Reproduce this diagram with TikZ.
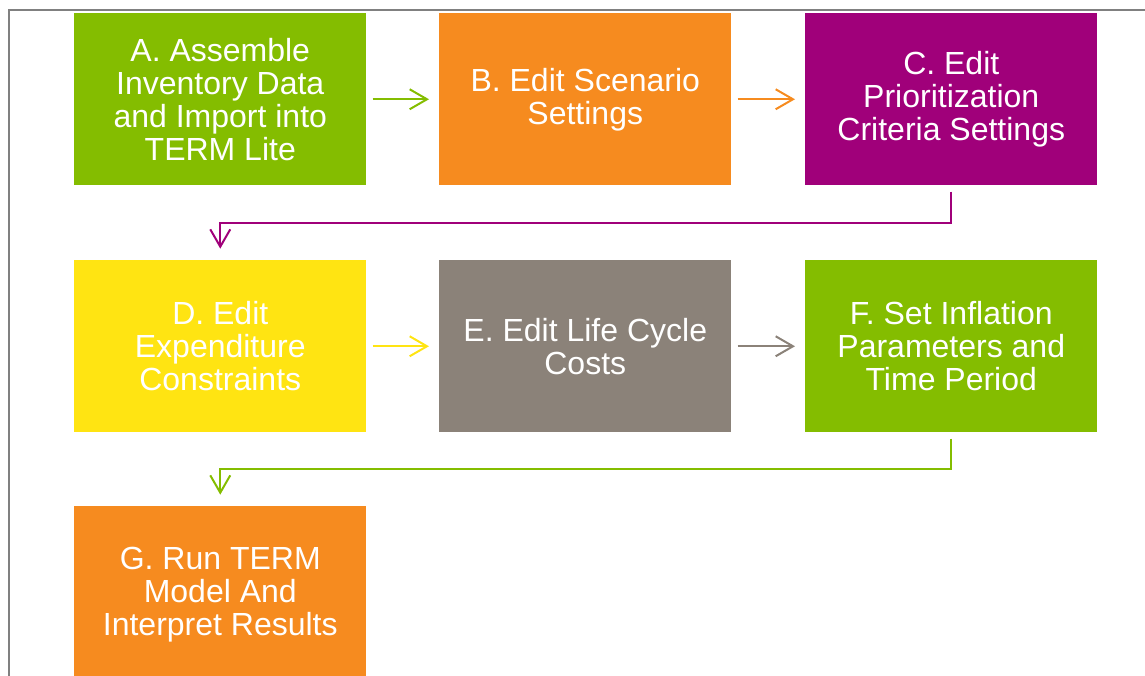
\documentclass[tikz,border=0pt]{standalone}
\usepackage{fontspec}
\setmainfont{Liberation Sans}
\usetikzlibrary{arrows.meta}
\definecolor{cgreen}{RGB}{132,189,0}
\definecolor{corange}{RGB}{246,139,31}
\definecolor{cpurple}{RGB}{160,0,122}
\definecolor{cyellow}{RGB}{255,228,18}
\definecolor{cgray}{RGB}{139,130,121}
\definecolor{cframe}{RGB}{128,128,128}
\begin{document}
\begin{tikzpicture}[x=0.75pt,y=-0.75pt,
  stepbox/.style={rectangle,inner sep=0pt,minimum width=219pt,minimum height=129pt,
    text=white,align=center,font=\fontsize{24}{24.7}\selectfont,anchor=north west},
  conn/.style={line width=1.5pt,-{Straight Barb[length=13pt,width=15pt,line width=1.5pt]}}]
\useasboundingbox (0,0) rectangle (1145,675);
\draw[cframe,line width=1.6pt] (9,676) -- (9,10) -- (1146,10);
\node[stepbox,fill=cgreen] (A) at (74,13) {A. Assemble\\Inventory Data\\and Import into\\TERM Lite};
\node[stepbox,fill=corange] (B) at (439,13) {B. Edit Scenario\\Settings};
\node[stepbox,fill=cpurple] (C) at (805,13) {C. Edit\\Prioritization\\Criteria Settings};
\node[stepbox,fill=cyellow] (D) at (74,260) {D. Edit\\Expenditure\\Constraints};
\node[stepbox,fill=cgray] (E) at (439,260) {E. Edit Life Cycle\\Costs};
\node[stepbox,fill=cgreen] (F) at (805,260) {F. Set Inflation\\Parameters and\\Time Period};
\node[stepbox,fill=corange,minimum height=132pt] (G) at (74,506) {G. Run TERM\\Model And\\Interpret Results};
\coordinate (c1) at ([yshift=-27.75pt]C.south);
\coordinate (c2) at ([yshift=-27pt]F.south);
\draw[conn,cgreen] ([xshift=4.5pt]A.east) -- ([xshift=-7.5pt]B.west);
\draw[conn,corange] ([xshift=4.5pt]B.east) -- ([xshift=-7.5pt]C.west);
\draw[conn,cyellow] ([xshift=4.5pt]D.east) -- ([xshift=-7.5pt]E.west);
\draw[conn,cgray] ([xshift=4.5pt]E.east) -- ([xshift=-7.5pt]F.west);
\draw[conn,cpurple] ([yshift=-4.5pt]C.south) -- (c1) -| ([yshift=8.5pt]D.north);
\draw[conn,cgreen] ([yshift=-4.5pt]F.south) -- (c2) -| ([yshift=8.5pt]G.north);
\end{tikzpicture}
\end{document}
